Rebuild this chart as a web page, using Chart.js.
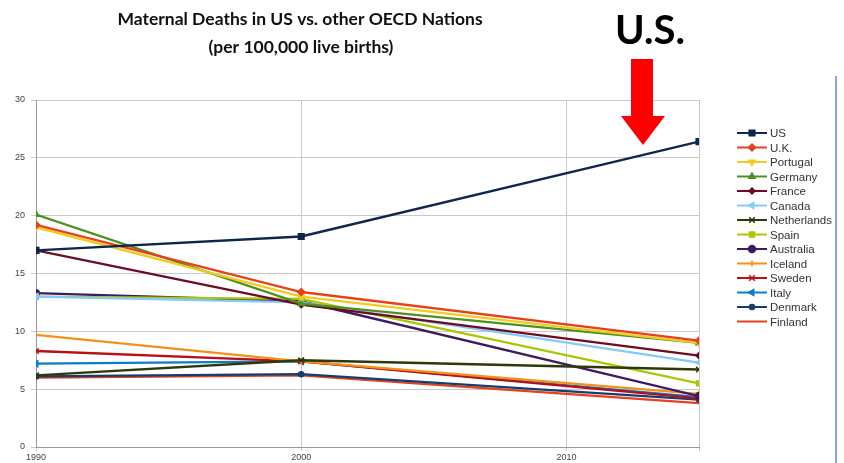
<!DOCTYPE html>
<html>
<head>
<meta charset="utf-8">
<script src="https://cdn.jsdelivr.net/npm/chart.js@4/dist/chart.umd.min.js"></script>
<style>
  body { margin: 0; background: #fff; }
  canvas { display: block; }
</style>
</head>
<body>
<canvas id="chart" width="844" height="463"></canvas>
<script>
// years on the x axis
const years = [1990, 2000, 2015];
const yTicks = [0, 5, 10, 15, 20, 25, 30];
const xTicks = [1990, 2000, 2010];

const countries = ['US', 'U.K.', 'Portugal', 'Germany', 'France', 'Canada', 'Netherlands',
    'Spain', 'Australia', 'Iceland', 'Sweden', 'Italy', 'Denmark', 'Finland'];

// deaths per 100,000 live births
const us = [17.0, 18.2, 26.4];
const uk = [19.2, 13.4, 9.2];
const portugal = [19.0, 13.0, 9.0];
const germany = [20.1, 12.4, 9.0];
const france = [17.0, 12.3, 7.9];
const canada = [13.0, 12.5, 7.3];
const netherlands = [6.2, 7.5, 6.7];
const spain = [13.0, 12.8, 5.5];
const australia = [13.3, 12.6, 4.4];
const iceland = [9.7, 7.4, 4.6];
const sweden = [8.3, 7.4, 4.2];
const italy = [7.2, 7.4, 4.3];
const denmark = [6.1, 6.3, 4.1];
const finland = [6.0, 6.2, 3.8];

const series = [us, uk, portugal, germany, france, canada, netherlands,
    spain, australia, iceland, sweden, italy, denmark, finland];

const colors = ['#0c264c', '#e8401a', '#f2cc1c', '#4f9020', '#6e0a22', '#83caff', '#2c3a08',
    '#a8c800', '#3e1a60', '#f59018', '#b8101a', '#0a7cc8', '#123e74', '#e8401a'];
const markers = [
    { style: 'rect', r: 4, rot: 0 },
    { style: 'rectRot', r: 3.5, rot: 0 },
    { style: 'triangle', r: 3.5, rot: 180 },
    { style: 'triangle', r: 3.5, rot: 0 },
    { style: 'rectRot', r: 3, rot: 0 },
    { style: 'triangle', r: 3.5, rot: 270 },
    { style: 'crossRot', r: 4, rot: 0 },
    { style: 'rect', r: 3.5, rot: 0 },
    { style: 'circle', r: 3.5, rot: 0 },
    { style: 'cross', r: 3, rot: 0 },
    { style: 'crossRot', r: 4, rot: 0 },
    { style: 'triangle', r: 3.5, rot: 270 },
    { style: 'circle', r: 2.5, rot: 0 },
    { style: 'circle', r: 0, rot: 0 }
];

const datasets = countries.map((name, i) => ({
    label: name,
    data: years.map((yr, j) => ({ x: yr, y: series[i][j] })),
    borderColor: colors[i],
    backgroundColor: colors[i],
    borderWidth: 2.3,
    pointStyle: markers[i].style,
    pointRadius: markers[i].r,
    pointRotation: markers[i].rot,
    pointBorderWidth: 1.5,
    tension: 0
}));

// title, the U.S. call-out, legend and the slide edge
const decorations = {
    id: 'decorations',
    afterDraw(chart) {
        const ctx = chart.ctx;
        ctx.save();

        ctx.fillStyle = '#111';
        ctx.textAlign = 'center';
        ctx.textBaseline = 'middle';
        ctx.font = 'bold 17.5px Lato';
        ctx.fillText('Maternal Deaths in US vs. other OECD Nations', 300, 19);
        ctx.fillText('(per 100,000 live births)', 301, 47);

        ctx.font = 'bold 40px Lato';
        ctx.fillStyle = '#000';
        ctx.fillText('U.S.', 650, 31);

        // red arrow
        ctx.fillStyle = '#f00';
        ctx.beginPath();
        ctx.moveTo(631, 59);
        ctx.lineTo(653, 59);
        ctx.lineTo(653, 116);
        ctx.lineTo(665, 116);
        ctx.lineTo(643, 145);
        ctx.lineTo(621, 116);
        ctx.lineTo(631, 116);
        ctx.closePath();
        ctx.fill();

        // legend
        ctx.textAlign = 'left';
        ctx.font = '11.5px "Liberation Sans"';
        chart.data.datasets.forEach((ds, i) => {
            const y = 133 + i * 14.5;
            ctx.strokeStyle = ds.borderColor;
            ctx.fillStyle = ds.borderColor;
            ctx.lineWidth = 2;
            ctx.beginPath();
            ctx.moveTo(737, y);
            ctx.lineTo(767, y);
            ctx.stroke();
            if (ds.pointRadius > 0) {
                ctx.lineWidth = 1.5;
                Chart.helpers.drawPoint(ctx, {
                    pointStyle: ds.pointStyle,
                    radius: ds.pointRadius,
                    rotation: ds.pointRotation,
                    borderWidth: 1.5
                }, 752, y);
            }
            ctx.fillStyle = '#333';
            ctx.fillText(ds.label, 770, y + 1);
        });

        // blue edge line on the right
        ctx.strokeStyle = '#5f8ad0';
        ctx.lineWidth = 1.5;
        ctx.beginPath();
        ctx.moveTo(836, 76);
        ctx.lineTo(836, 463);
        ctx.stroke();

        ctx.restore();
    }
};

new Chart(document.getElementById('chart'), {
    type: 'line',
    data: { datasets: datasets },
    options: {
        responsive: false,
        devicePixelRatio: 1,
        animation: false,
        layout: { padding: { top: 100, right: 145, left: 0, bottom: 0 } },
        plugins: {
            legend: { display: false },
            tooltip: { enabled: false }
        },
        scales: {
            x: {
                type: 'linear',
                min: years[0],
                max: years[years.length - 1],
                afterFit: s => { s.height = 16; },
                afterBuildTicks: s => {
                    s.ticks = xTicks.map(v => ({ value: v })).concat([{ value: years[years.length - 1] }]);
                },
                ticks: {
                    font: { size: 9, family: 'Liberation Sans' },
                    color: '#444',
                    padding: 1,
                    maxRotation: 0,
                    autoSkip: false,
                    callback: v => (xTicks.includes(v) ? String(v) : '')
                },
                grid: { color: '#c9c9c9', tickLength: 4 },
                border: { color: '#999' }
            },
            y: {
                min: 0,
                max: 30,
                afterFit: s => { s.width = 36; },
                afterBuildTicks: s => { s.ticks = yTicks.map(v => ({ value: v })); },
                ticks: {
                    font: { size: 9, family: 'Liberation Sans' },
                    color: '#444',
                    padding: 6
                },
                grid: { color: '#c9c9c9', tickLength: 5 },
                border: { color: '#999' }
            }
        }
    },
    plugins: [decorations]
});
</script>
</body>
</html>
